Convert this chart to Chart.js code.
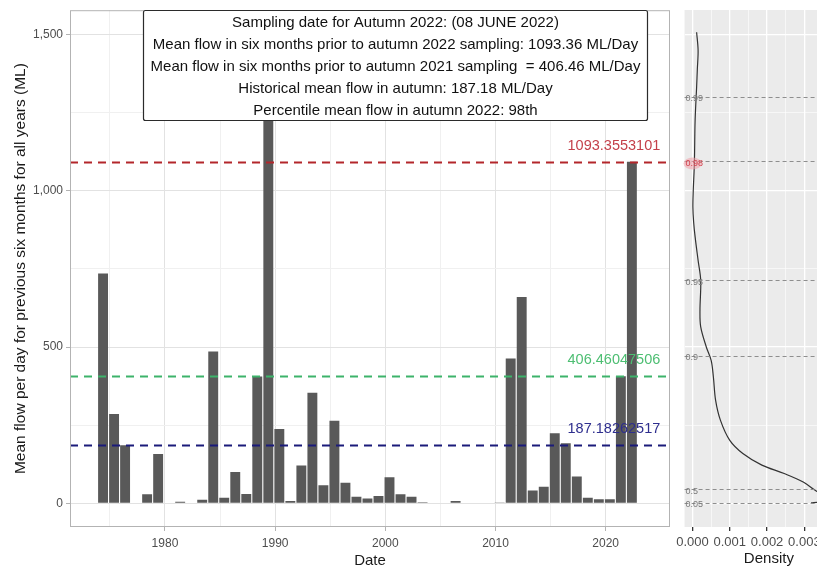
<!DOCTYPE html>
<html><head><meta charset="utf-8">
<script src="https://cdn.jsdelivr.net/npm/chart.js@4.4.0/dist/chart.umd.min.js"></script>
<style>
html,body{margin:0;padding:0;background:#fff;overflow:hidden;width:817px;height:570px;}
#main{position:absolute;left:0;top:0;}
#dens{position:absolute;left:672px;top:0;}
</style></head><body>
<canvas id="main" width="672" height="570"></canvas>
<canvas id="dens" width="190" height="570"></canvas>
<script>
// ---------------- DATA ----------------
const years = [1974,1975,1976,1978,1979,1981,1983,1984,1985,1986,1987,1988,1989,1990,1991,1992,1993,1994,1995,1996,1997,1998,1999,2000,2001,2002,2003,2004,2005,2006,2007,2008,2009,2010,2011,2012,2013,2014,2015,2016,2017,2018,2019,2020,2021,2022];
const flows = [735,286,186,29,158,5,11,486,18,100,30,406,1505,238,7,121,354,58,264,66,21,15,23,83,29,21,3,2,2,7,2,2,2,1,463,660,41,53,224,192,86,18,13,13,406.46,1093.36];
const samplingYearFraction = 0.38;

const refValues = [1093.3553101, 406.46047506, 187.18262517];
const refLabels = ['1093.3553101', '406.46047506', '187.18262517'];
const refLineColors = ['#B3262B', '#3DB36A', '#1B1B7A'];
const refTextColors = ['#C4404A', '#4DBE72', '#2E2E8E'];
const refLabelYear = 2020.75;

const xTickValues = [1975,1980,1985,1990,1995,2000,2005,2010,2015,2020];
const xMajorTicks = [1980,1990,2000,2010,2020];
const yTickValues = [0,250,500,750,1000,1250,1500];
const yMajorTicks = [0,500,1000,1500];

const boxLines = [
  'Sampling date for Autumn 2022: (08 JUNE 2022)',
  'Mean flow in six months prior to autumn 2022 sampling: 1093.36 ML/Day',
  'Mean flow in six months prior to autumn 2021 sampling  = 406.46 ML/Day',
  'Historical mean flow in autumn: 187.18 ML/Day',
  'Percentile mean flow in autumn 2022: 98th'
];
const boxExtent = {x0: 1978.0, x1: 2023.75, y0: 1225};

// density panel
const densityFlow = [1507,1449,1390,1331,1225,1087,1000,947,900,852,777,713,617,564,500,457,404,329,265,201,159,122,95,68,42,25,12,4,1];
const densityEst  = [0.00011,0.00015,0.00013,0.00011,0.00007,0.00005,0.00002,0.00001,0.00003,0.00007,0.00015,0.00022,0.00020,0.00022,0.00037,0.00050,0.00056,0.00062,0.00075,0.00100,0.00135,0.00186,0.00246,0.00297,0.00328,0.00350,0.00360,0.00340,0.00318];
const quantileProbs = ['0.99','0.98','0.95','0.9','0.5','0.05'];
const quantileFlows = [1300, 1093.36, 713, 472, 44, 2];
const highlightQuantile = '0.98';
const densityTickValues = [0,0.0005,0.001,0.0015,0.002,0.0025,0.003,0.0035,0.004];
const densityMajorTicks = [0,0.001,0.002,0.003,0.004];

// ---------------- SHARED ----------------
const FONT = '"Liberation Sans", Arial, Helvetica, sans-serif';
const Y_MIN = -76, Y_MAX = 1578;
const isMajor = (v, list) => list.some(m => Math.abs(m - v) < 1e-9);

// ---------------- MAIN CHART ----------------
const overlay = {
  id: 'overlay',
  beforeDraw(chart) {
    const {ctx, chartArea: a} = chart;
    ctx.save(); ctx.fillStyle = '#fff'; ctx.fillRect(a.left, a.top, a.right - a.left, a.bottom - a.top); ctx.restore();
  },
  afterDatasetsDraw(chart) {
    const {ctx, chartArea: a, scales: {x, y}} = chart;
    ctx.save();
    refValues.forEach((v, i) => {
      const py = Math.round(y.getPixelForValue(v)) + 0.5;
      ctx.beginPath();
      ctx.setLineDash([8, 6]);
      ctx.lineWidth = 1.8;
      ctx.strokeStyle = refLineColors[i];
      ctx.moveTo(a.left, py); ctx.lineTo(a.right, py); ctx.stroke();
    });
    ctx.setLineDash([]);
    ctx.font = '14.5px ' + FONT;
    ctx.textAlign = 'center'; ctx.textBaseline = 'middle';
    refValues.forEach((v, i) => {
      ctx.fillStyle = refTextColors[i];
      ctx.fillText(refLabels[i], x.getPixelForValue(refLabelYear), y.getPixelForValue(v) - 16);
    });
    ctx.strokeStyle = '#B3B3B3'; ctx.lineWidth = 1;
    ctx.strokeRect(a.left + 0.5, a.top + 0.5, a.right - a.left - 1, a.bottom - a.top - 1);
    const bx0 = Math.round(x.getPixelForValue(boxExtent.x0)) + 0.5;
    const bx1 = Math.round(x.getPixelForValue(boxExtent.x1)) + 0.5;
    const by0 = Math.round(a.top) + 0.5;
    const by1 = Math.round(y.getPixelForValue(boxExtent.y0)) + 0.5;
    ctx.fillStyle = '#fff';
    ctx.strokeStyle = '#2b2b2b'; ctx.lineWidth = 1.2;
    ctx.beginPath();
    if (ctx.roundRect) ctx.roundRect(bx0, by0, bx1 - bx0, by1 - by0, 2); else ctx.rect(bx0, by0, bx1 - bx0, by1 - by0);
    ctx.fill(); ctx.stroke();
    ctx.fillStyle = '#111';
    ctx.font = '15px ' + FONT;
    ctx.textAlign = 'center'; ctx.textBaseline = 'middle';
    const cx = (bx0 + bx1) / 2;
    boxLines.forEach((t, i) => ctx.fillText(t, cx, by0 + 12.5 + i * 22));
    ctx.restore();
  }
};

new Chart(document.getElementById('main'), {
  type: 'bar',
  data: {
    datasets: [{
      data: years.map((yr, i) => ({x: yr + samplingYearFraction, y: flows[i]})),
      backgroundColor: '#595959',
      borderWidth: 0,
      barPercentage: 0.9,
      categoryPercentage: 1.0
    }]
  },
  options: {
    responsive: false, animation: false, devicePixelRatio: 1,
    layout: {padding: {top: 10, right: 2, left: 0, bottom: 0}},
    plugins: {legend: {display: false}, tooltip: {enabled: false}},
    scales: {
      x: {
        type: 'linear', min: 1971.38, max: 2025.84, offset: false,
        afterBuildTicks: s => { s.ticks = xTickValues.map(v => ({value: v})); },
        afterFit: s => { s.height = 43; },
        grid: {
          offset: false, drawTicks: true, tickLength: 4,
          color: c => isMajor(c.tick.value, xMajorTicks) ? '#E2E2E2' : '#F0F0F0',
          lineWidth: 1,
          tickColor: c => isMajor(c.tick.value, xMajorTicks) ? '#B3B3B3' : 'rgba(0,0,0,0)'
        },
        border: {display: false},
        ticks: {
          maxRotation: 0, autoSkip: false, padding: 5, color: '#4D4D4D',
          font: {family: FONT, size: 12},
          callback: v => isMajor(v, xMajorTicks) ? String(v) : ''
        },
        title: {display: true, text: 'Date', color: '#1a1a1a', font: {family: FONT, size: 15}, padding: {top: 0, bottom: 0}}
      },
      y: {
        type: 'linear', min: Y_MIN, max: Y_MAX,
        afterBuildTicks: s => { s.ticks = yTickValues.map(v => ({value: v})); },
        afterFit: s => { s.width = 70; },
        grid: {
          drawTicks: true, tickLength: 4,
          color: c => isMajor(c.tick.value, yMajorTicks) ? '#E2E2E2' : '#F0F0F0',
          lineWidth: 1,
          tickColor: c => isMajor(c.tick.value, yMajorTicks) ? '#B3B3B3' : 'rgba(0,0,0,0)'
        },
        border: {display: false},
        ticks: {
          padding: 3, color: '#4D4D4D', font: {family: FONT, size: 12},
          callback: v => isMajor(v, yMajorTicks) ? v.toLocaleString('en-US') : ''
        },
        title: {display: true, text: 'Mean flow per day for previous six months for all years (ML)', color: '#1a1a1a', font: {family: FONT, size: 15.5}, padding: {top: 11.5, bottom: 0}}
      }
    }
  },
  plugins: [overlay]
});

// ---------------- DENSITY CHART ----------------
const densPanel = {
  id: 'densPanel',
  beforeDraw(chart) {
    const {ctx, chartArea: a} = chart;
    ctx.save(); ctx.fillStyle = '#EBEBEB'; ctx.fillRect(a.left, a.top, a.right - a.left, a.bottom - a.top); ctx.restore();
  },
  afterDatasetsDraw(chart) {
    const {ctx, chartArea: a, scales: {y}} = chart;
    ctx.save();
    quantileFlows.forEach((v, i) => {
      const py = Math.round(y.getPixelForValue(v)) + 0.5;
      ctx.beginPath(); ctx.setLineDash([4, 3]); ctx.lineWidth = 1; ctx.strokeStyle = '#8E8E8E';
      ctx.moveTo(a.left, py); ctx.lineTo(a.right, py); ctx.stroke();
    });
    ctx.setLineDash([]);
    ctx.font = '9px ' + FONT; ctx.textAlign = 'left'; ctx.textBaseline = 'middle';
    quantileFlows.forEach((v, i) => {
      const py = y.getPixelForValue(v) + 2;
      if (quantileProbs[i] === highlightQuantile) {
        ctx.fillStyle = 'rgba(240,160,170,0.55)';
        ctx.beginPath(); ctx.ellipse(a.left + 8, py, 9, 6, 0, 0, Math.PI * 2); ctx.fill();
        ctx.fillStyle = '#D2404C';
      } else ctx.fillStyle = '#7A7A7A';
      ctx.fillText(quantileProbs[i], a.left + 1, py);
    });
    ctx.restore();
  }
};

new Chart(document.getElementById('dens'), {
  type: 'scatter',
  data: {
    datasets: [{
      data: densityFlow.map((f, i) => ({x: densityEst[i], y: f})),
      showLine: true, tension: 0.35, pointRadius: 0,
      borderColor: '#333333', borderWidth: 1.2, fill: false
    }]
  },
  options: {
    responsive: false, animation: false, devicePixelRatio: 1,
    layout: {padding: {top: 10, right: 5, left: 9, bottom: 0}},
    plugins: {legend: {display: false}, tooltip: {enabled: false}},
    scales: {
      x: {
        type: 'linear', min: -0.000213, max: 0.00431,
        afterBuildTicks: s => { s.ticks = densityTickValues.map(v => ({value: v})); },
        afterFit: s => { s.height = 43; },
        grid: {
          drawTicks: true, tickLength: 4,
          color: '#FFFFFF',
          lineWidth: c => isMajor(c.tick.value, densityMajorTicks) ? 1.3 : 0.6,
          tickColor: c => isMajor(c.tick.value, densityMajorTicks) ? '#333333' : 'rgba(0,0,0,0)'
        },
        border: {display: false},
        ticks: {
          maxRotation: 0, autoSkip: false, padding: 4, color: '#4D4D4D',
          font: {family: FONT, size: 13},
          callback: v => isMajor(v, densityMajorTicks) ? v.toFixed(3) : ''
        },
        title: {display: true, text: 'Density', color: '#1a1a1a', font: {family: FONT, size: 15}, padding: {top: 0, bottom: 2}}
      },
      y: {
        type: 'linear', min: Y_MIN, max: Y_MAX,
        afterBuildTicks: s => { s.ticks = yTickValues.map(v => ({value: v})); },
        afterFit: s => { s.width = 0; },
        grid: {
          drawTicks: false, color: '#FFFFFF',
          lineWidth: c => isMajor(c.tick.value, yMajorTicks) ? 1.3 : 0.6
        },
        border: {display: false},
        ticks: {display: false}
      }
    }
  },
  plugins: [densPanel]
});
</script>
</body></html>
